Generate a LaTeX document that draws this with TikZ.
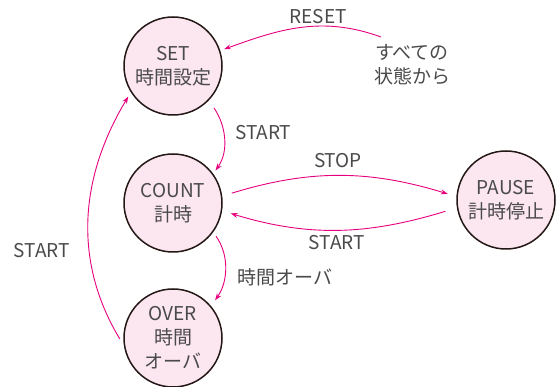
\documentclass[tikz,border=0pt]{standalone}
\usepackage{fontspec}
\setmainfont{Noto Sans CJK JP}
\usetikzlibrary{arrows.meta}
\definecolor{pinkline}{HTML}{E6007E}
\definecolor{pinkfill}{HTML}{FCE6F0}
\definecolor{txt}{HTML}{4A4A4A}
\definecolor{ring}{HTML}{231815}
\begin{document}
\begin{tikzpicture}[x=1pt,y=1pt,
  state/.style={circle,draw=ring,line width=1.5pt,fill=pinkfill,minimum size=98pt,inner sep=0pt,
    text=txt,align=center,font=\fontsize{19}{24}\selectfont},
  lbl/.style={text=txt,font=\fontsize{19}{24}\selectfont,inner sep=0pt,align=center},
  conn/.style={draw=pinkline,line width=0.9pt,-{Stealth[length=7pt,width=5pt]}}]
\useasboundingbox (0,0) rectangle (560,387);
\node[state] (set) at (173,321) {SET\\時間設定};
\node[state] (count) at (173,184) {COUNT\\計時};
\node[state] (pause) at (506,187) {PAUSE\\計時停止};
\node[state] (over) at (173,49) {OVER\\時間\\オーバ};
\node[lbl] (all) at (412,322) {すべての\\状態から};
\coordinate (rsrc) at (381,350);
\node[lbl] (lreset) at (318,370) {RESET};
\node[lbl,anchor=west] (lstart1) at (235,254) {START};
\node[lbl] (lstop) at (338,226) {STOP};
\node[lbl] (lstart2) at (337,144) {START};
\node[lbl,anchor=west] (lover) at (237,110) {時間オーバ};
\node[lbl] (lstart3) at (42,136) {START};
\draw[conn,shorten >=4pt] (rsrc) to[out=160,in=20] (set.18);
\draw[conn,shorten <=9pt,shorten >=4pt] (set.-44) to[out=-55,in=55] (count.36);
\draw[conn,shorten <=10pt,shorten >=9pt] (count.8) to[out=17,in=163] (pause.176);
\draw[conn,shorten <=12pt,shorten >=9pt] (pause.189) to[out=-163,in=-17] (count.-9);
\draw[conn,shorten <=5pt,shorten >=7pt] (count.-36) to[out=-55,in=55] (over.40);
\draw[conn,shorten <=8pt,shorten >=5pt] (over.189) to[out=121,in=-121] (set.212);
\end{tikzpicture}
\end{document}
